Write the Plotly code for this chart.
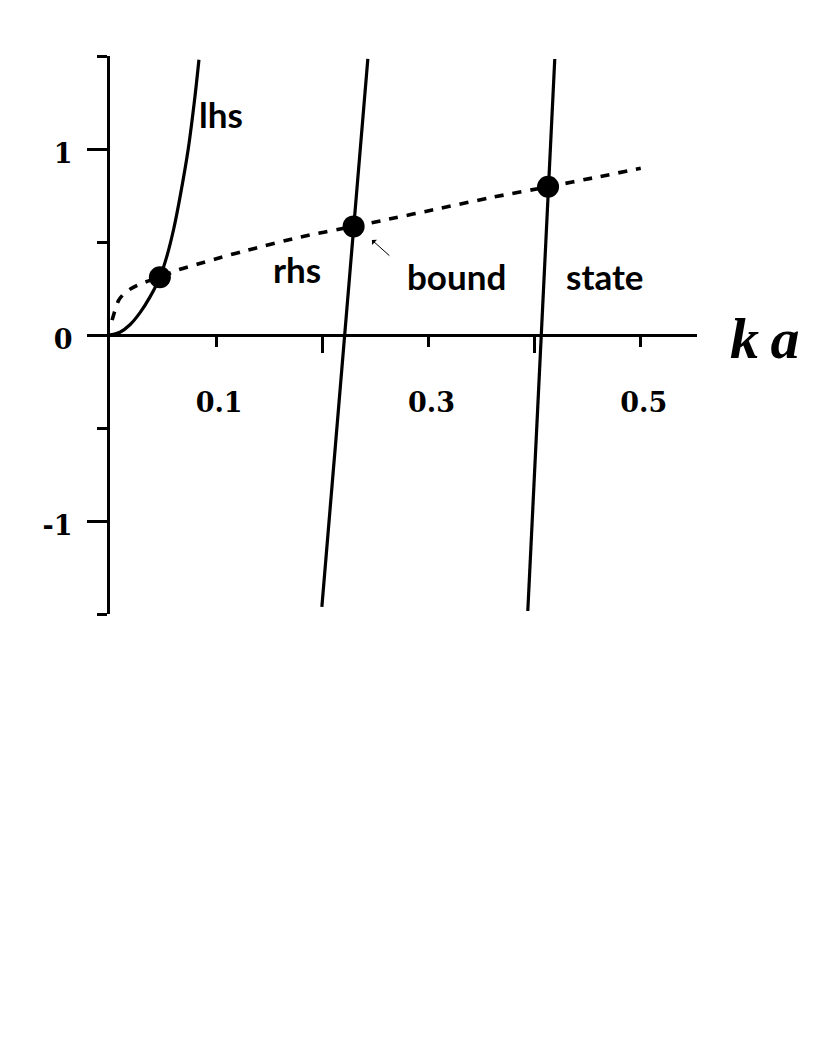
import plotly.graph_objects as go

# ---- data ----
lhs_x = [0.0, 0.0094, 0.0188, 0.0283, 0.0377, 0.047, 0.0534, 0.060, 0.0659, 0.0737, 0.080, 0.0838]
lhs_y = [0.0, 0.015, 0.055, 0.12, 0.205, 0.31, 0.42, 0.57, 0.74, 1.0, 1.28, 1.48]

rhs_x = [0.002, 0.004, 0.008, 0.012, 0.02, 0.03, 0.047, 0.064, 0.082, 0.105, 0.129, 0.179, 0.2295, 0.257, 0.311, 0.36, 0.4127, 0.46, 0.50]
rhs_y = [0.08, 0.12, 0.185, 0.215, 0.25, 0.278, 0.31, 0.35, 0.38, 0.418, 0.455, 0.526, 0.584, 0.616, 0.681, 0.74, 0.797, 0.85, 0.896]

branch1_x = [0.1996, 0.2213, 0.2429]
branch1_y = [-1.462, 0.0, 1.484]
branch2_x = [0.3936, 0.4063, 0.419]
branch2_y = [-1.484, 0.0, 1.484]

roots_x = [0.047, 0.2295, 0.4127]
roots_y = [0.31, 0.584, 0.797]

x_tickvals = [0.1, 0.3, 0.5]
x_ticktext = ["0.1", "0.3", "0.5"]
x_minor_vals = [0.2, 0.4]
y_tickvals = [-1, 0, 1]
y_ticktext = ["-1", "0", "1"]
y_minor_vals = [-1.5, -0.5, 0.5, 1.5]

labels = ["lhs", "rhs", "bound", "state"]
label_x = [0.1045, 0.176, 0.3264, 0.4666]
label_y = [1.186, 0.355, 0.316, 0.316]

LW = 3.2
fig = go.Figure()
fig.add_trace(go.Scatter(x=lhs_x, y=lhs_y, mode="lines",
                         line=dict(color="black", width=LW, shape="spline", smoothing=0.8),
                         hoverinfo="skip"))
fig.add_trace(go.Scatter(x=rhs_x, y=rhs_y, mode="lines",
                         line=dict(color="black", width=3.6, dash="9px,9px", shape="spline", smoothing=0.8),
                         hoverinfo="skip"))
fig.add_trace(go.Scatter(x=branch1_x, y=branch1_y, mode="lines",
                         line=dict(color="black", width=LW), hoverinfo="skip"))
fig.add_trace(go.Scatter(x=branch2_x, y=branch2_y, mode="lines",
                         line=dict(color="black", width=LW), hoverinfo="skip"))
fig.add_trace(go.Scatter(x=roots_x, y=roots_y, mode="markers",
                         marker=dict(color="black", size=22, line=dict(width=0)),
                         hoverinfo="skip"))

label_font = dict(family="Comic Sans MS, Lato, sans-serif", size=35, color="black", weight="bold")
for t, lx, ly in zip(labels, label_x, label_y):
    fig.add_annotation(x=lx, y=ly, text=t, showarrow=False, font=label_font,
                       xanchor="center", yanchor="middle")

# small pointer arrow near the middle root
fig.add_annotation(x=0.2467, y=0.511, ax=19, ay=17, text="", showarrow=True,
                   arrowhead=1, arrowsize=1.2, arrowwidth=1, arrowcolor="black")

# axis title "ka"
fig.add_annotation(xref="paper", yref="y", x=1.116, y=-0.02, text="<b><i>k\u2009a</i></b>",
                   showarrow=False, xanchor="center", yanchor="middle",
                   font=dict(family="Liberation Serif, serif", size=58, color="black"))

tickfont = dict(family="DejaVu Serif, serif", size=27, color="black", weight="bold")
fig.update_layout(
    width=822, height=1030,
    margin=dict(l=102, r=133, t=48, b=424),
    paper_bgcolor="white", plot_bgcolor="white",
    showlegend=False,
    xaxis=dict(range=[0, 0.553], domain=[0, 1], anchor="free", position=0.5,
               showgrid=False, zeroline=False,
               showline=True, linecolor="black", linewidth=3,
               tickmode="array", tickvals=x_tickvals, ticktext=x_ticktext,
               ticks="outside", ticklen=10, tickwidth=2.5, tickcolor="black",
               ticklabelstandoff=33, ticklabelshift=3, tickfont=tickfont,
               minor=dict(tickmode="array", tickvals=x_minor_vals, ticks="outside",
                          ticklen=16, tickwidth=2.5, tickcolor="black", showgrid=False)),
    yaxis=dict(range=[-1.5, 1.5], domain=[0, 1],
               showgrid=False, zeroline=False,
               showline=True, linecolor="black", linewidth=3,
               tickmode="array", tickvals=y_tickvals, ticktext=y_ticktext,
               ticks="outside", ticklen=20, tickwidth=2.5, tickcolor="black",
               ticklabelstandoff=9, ticklabelshift=5, tickfont=tickfont,
               minor=dict(tickmode="array", tickvals=y_minor_vals, ticks="outside",
                          ticklen=10, tickwidth=2.5, tickcolor="black", showgrid=False)),
)

fig.write_html("out.html")
